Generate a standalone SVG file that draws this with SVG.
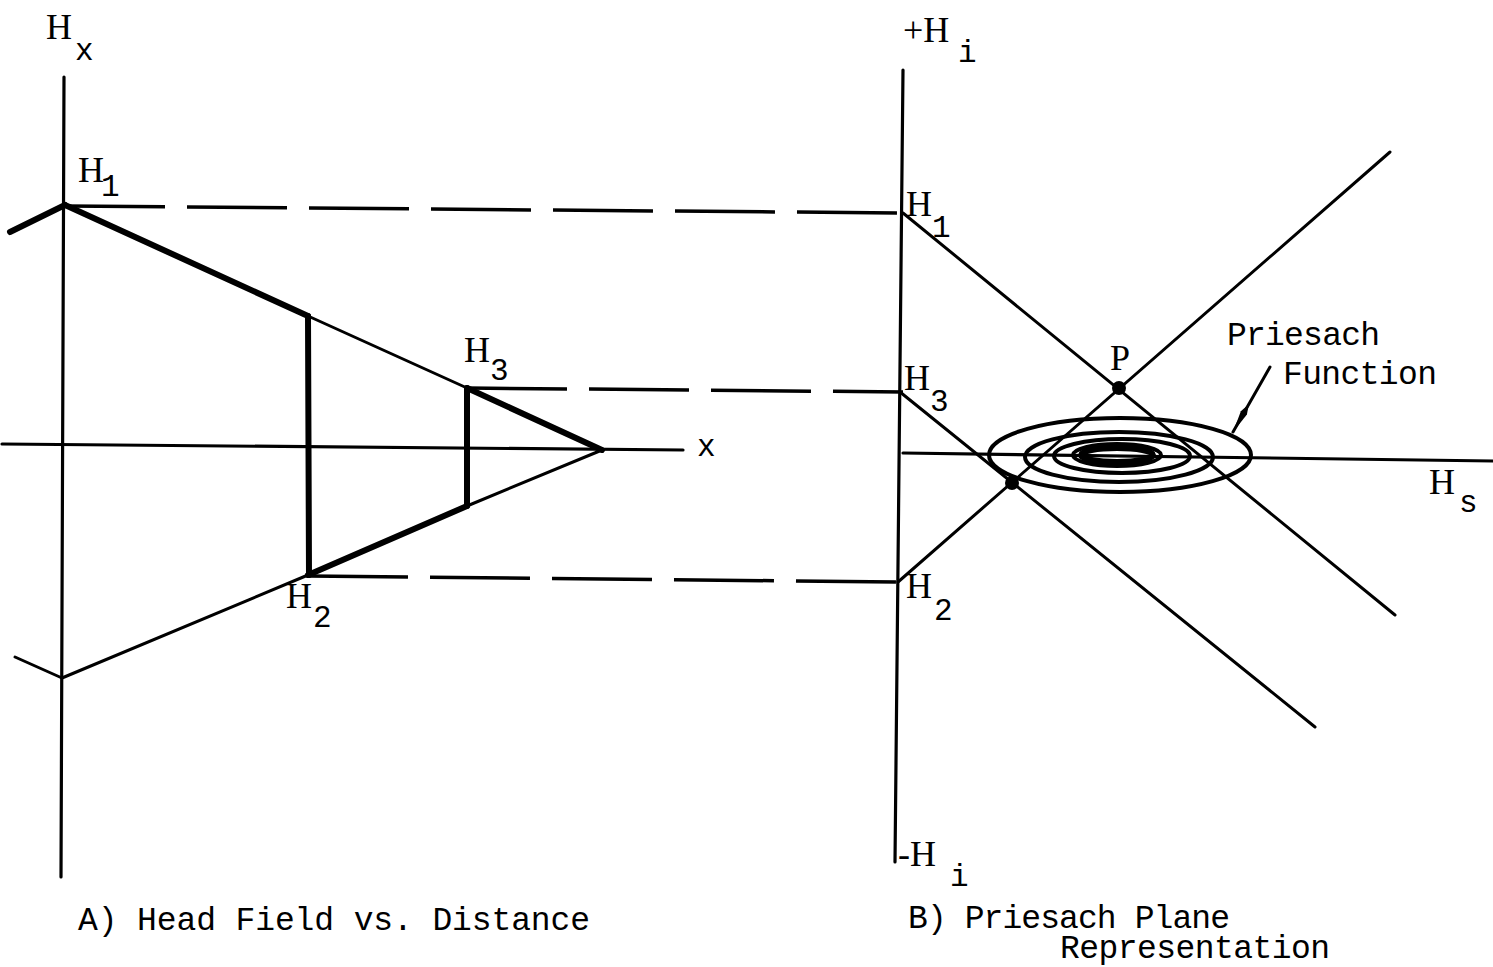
<svg xmlns="http://www.w3.org/2000/svg" width="1493" height="967" viewBox="0 0 1493 967">
<style>
.ax{stroke:#000;stroke-width:3.2;fill:none;stroke-linecap:round}
.thin{stroke:#000;stroke-width:3;fill:none;stroke-linecap:round}
.thick{stroke:#000;stroke-width:6;fill:none;stroke-linecap:round}
.dash{stroke:#000;stroke-width:3.5;fill:none;stroke-dasharray:100 22}
.ell{stroke:#000;stroke-width:4;fill:none}
.t{font-family:"Liberation Mono","DejaVu Sans Mono",monospace;font-size:33px;fill:#000}
.h{font-family:"Liberation Serif","DejaVu Serif",serif;font-size:36px;fill:#000}
.s{font-family:"Liberation Mono","DejaVu Sans Mono",monospace;font-size:31px;fill:#000}
</style>
<defs>
<marker id="arr" markerWidth="34" markerHeight="10" refX="32" refY="5" orient="auto" markerUnits="userSpaceOnUse">
<path d="M0,5 L10,1.5 L32,5 L10,8.5 Z" fill="#000"/>
</marker>
</defs>
<rect width="1493" height="967" fill="#fff"/>

<g id="panelA">
<line class="ax" x1="64" y1="77" x2="61" y2="877"/>
<line class="ax" x1="2" y1="444" x2="683" y2="450"/>
<line class="thick" x1="10" y1="232" x2="65" y2="205"/>
<line class="thick" x1="65" y1="205" x2="308" y2="316"/>
<line class="thin" x1="308" y1="316" x2="467" y2="388"/>
<line class="thick" x1="467" y1="388" x2="602" y2="450"/>
<line class="thin" x1="15" y1="657" x2="62" y2="678"/>
<line class="thin" x1="62" y1="678" x2="308" y2="575"/>
<line class="thick" x1="308" y1="575" x2="467" y2="506"/>
<line class="thin" x1="467" y1="506" x2="602" y2="450"/>
<line class="thick" x1="308" y1="316" x2="309" y2="575"/>
<line class="thick" x1="467" y1="388" x2="467" y2="506"/>
<text class="h" x="46" y="39">H</text><text class="s" x="75" y="60">x</text>
<text class="h" x="78" y="182">H</text><text class="s" x="101" y="196">1</text>
<text class="h" x="464" y="362">H</text><text class="s" x="490" y="380">3</text>
<text class="h" x="286" y="608">H</text><text class="s" x="313" y="627">2</text>
<text class="s" x="697" y="456">x</text>
<text class="t" x="78" y="930" textLength="512" lengthAdjust="spacing">A) Head Field vs. Distance</text>
</g>

<g id="connectors">
<line class="dash" x1="65" y1="206" x2="905" y2="213"/>
<line class="dash" x1="467" y1="388" x2="903" y2="392"/>
<line class="dash" x1="308" y1="576" x2="898" y2="582"/>
</g>

<g id="panelB">
<line class="ax" x1="903" y1="70" x2="895" y2="862"/>
<line class="ax" x1="903" y1="453" x2="1493" y2="461"/>
<line class="thin" x1="903" y1="213" x2="1395" y2="615"/>
<line class="thin" x1="900" y1="392" x2="1315" y2="727"/>
<line class="thin" x1="898" y1="582" x2="1390" y2="152"/>
<ellipse class="ell" cx="1120" cy="455" rx="131" ry="37"/>
<ellipse class="ell" cx="1119" cy="457" rx="94" ry="25"/>
<ellipse class="ell" cx="1122" cy="456" rx="68" ry="17"/>
<ellipse class="ell" cx="1117" cy="455" rx="44" ry="11"/>
<ellipse cx="1117" cy="455" rx="36" ry="7" stroke="#000" stroke-width="6" fill="none"/>
<circle cx="1119" cy="388" r="7" fill="#000"/>
<circle cx="1012" cy="483" r="7" fill="#000"/>
<line class="thin" x1="1270" y1="367" x2="1233" y2="432" marker-end="url(#arr)"/>
<text class="h" x="903" y="42">+H</text><text class="s" x="958" y="62">i</text>
<text class="h" x="906" y="216">H</text><text class="s" x="932" y="237">1</text>
<text class="h" x="904" y="390">H</text><text class="s" x="930" y="411">3</text>
<text class="h" x="906" y="598">H</text><text class="s" x="934" y="620">2</text>
<text class="h" x="1110" y="370">P</text>
<text class="t" x="1227" y="345" textLength="153" lengthAdjust="spacing">Priesach</text>
<text class="t" x="1283" y="384" textLength="154" lengthAdjust="spacing">Function</text>
<text class="h" x="1429" y="494">H</text><text class="s" x="1459" y="512">s</text>
<text class="h" x="898" y="866">-H</text><text class="s" x="950" y="886">i</text>
<text class="t" x="908" y="928" textLength="322" lengthAdjust="spacing">B) Priesach Plane</text>
<text class="t" x="1060" y="958" textLength="270" lengthAdjust="spacing">Representation</text>
</g>
</svg>
